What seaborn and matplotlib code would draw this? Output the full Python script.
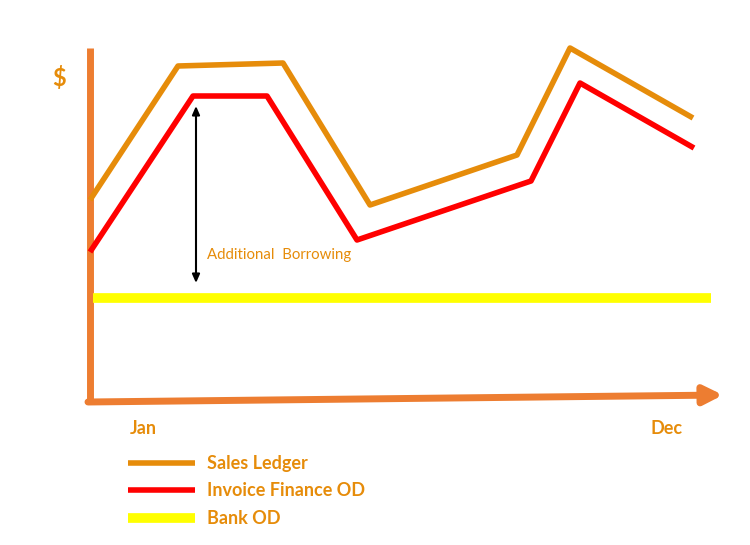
import numpy as np
import pandas as pd
import seaborn as sns
import matplotlib.pyplot as plt

# time runs right from the y axis, amount runs up from the x axis
sales_time = [0, 88, 193, 280, 427, 480, 603]
sales_amount = [202, 336, 339, 197, 247, 354, 284]
invoice_time = [0, 103, 177, 267, 441, 490, 604]
invoice_amount = [150, 306, 306, 162, 221, 319, 254]
bank_time = [3, 621]
bank_amount = [104, 104]

series_names = ['Sales Ledger', 'Invoice Finance OD', 'Bank OD']
series_colors = ['#E68C0A', '#FF0000', '#FFFF00']
month_labels = ['Jan', 'Dec']

df = pd.concat([
    pd.DataFrame({'time': sales_time, 'amount': sales_amount, 'series': series_names[0]}),
    pd.DataFrame({'time': invoice_time, 'amount': invoice_amount, 'series': series_names[1]}),
    pd.DataFrame({'time': bank_time, 'amount': bank_amount, 'series': series_names[2]}),
])

sns.set_style('white')
plt.rcParams['font.family'] = ['Lato', 'DejaVu Sans']

fig = plt.figure(figsize=(7.5, 5.45), dpi=100)
ax = fig.add_axes([0, 0, 1, 1])

palette = dict(zip(series_names, series_colors))
for name, lw in zip(series_names, [4, 4, 7]):
    sns.lineplot(data=df[df['series'] == name], x='time', y='amount', color=palette[name],
                 linewidth=lw, ax=ax, legend=False, sort=False, solid_capstyle='butt')

axis_color = '#ED7D31'
# hand drawn axes
ax.plot([0, 0], [0, 354], color=axis_color, linewidth=5, solid_capstyle='butt', zorder=1)
ax.annotate('', xy=(633, 7), xytext=(-2, 0),
            arrowprops=dict(arrowstyle='-|>,head_length=1.1,head_width=0.55',
                            color=axis_color, lw=5, shrinkA=0, shrinkB=0))

# additional borrowing arrow
ax.annotate('', xy=(106, 296), xytext=(106, 119),
            arrowprops=dict(arrowstyle='<|-|>,head_length=0.5,head_width=0.22',
                            color='black', lw=1.5, shrinkA=0, shrinkB=0))
ax.text(117, 147, 'Additional  Borrowing', color='#E68C0A', fontsize=10.8, va='center')

ax.text(-38, 324, '$', color='#E68C0A', fontsize=17, fontweight='bold', va='center')
ax.text(40, -26, month_labels[0], color='#E68C0A', fontsize=13, fontweight='bold', va='center')
ax.text(561, -26, month_labels[1], color='#E68C0A', fontsize=13, fontweight='bold', va='center')

# legend drawn by hand
legend_y = [-61, -88, -116]
for name, y in zip(series_names, legend_y):
    ax.plot([38, 105], [y, y], color=palette[name], linewidth=4 if name != 'Bank OD' else 7,
            solid_capstyle='butt')
    ax.text(117, y, name, color='#E68C0A', fontsize=13, fontweight='bold', va='center')

ax.set_xlim(-90, 660)
ax.set_ylim(-143, 402)
ax.axis('off')

fig.savefig('out.png', dpi=100)
